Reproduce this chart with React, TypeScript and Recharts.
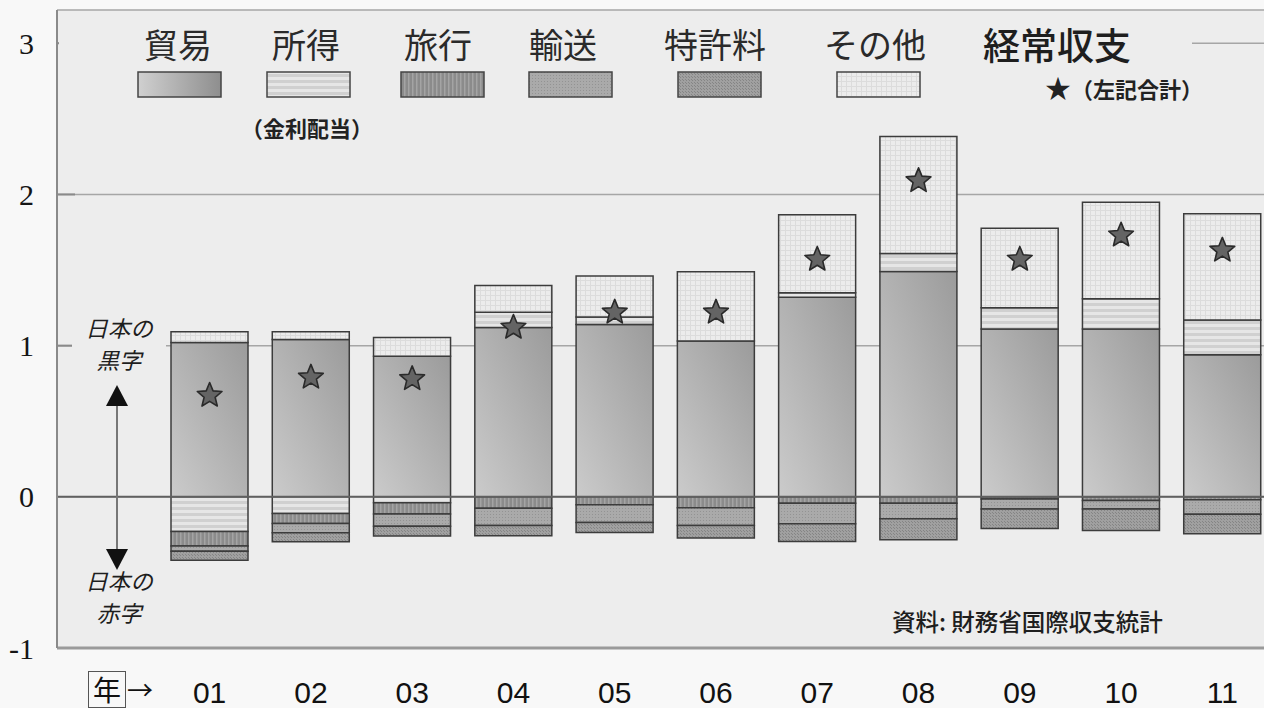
import React from 'react'
import { ComposedChart, Bar, Line, XAxis, YAxis, CartesianGrid, ReferenceLine } from 'recharts'

// 年 (2001-2011), 単位は縦軸目盛のまま
const years = ['01', '02', '03', '04', '05', '06', '07', '08', '09', '10', '11']
const trade = [1.02, 1.04, 0.93, 1.12, 1.14, 1.03, 1.32, 1.49, 1.11, 1.11, 0.94]
const income = [-0.23, -0.11, -0.04, 0.1, 0.05, 0, 0.03, 0.12, 0.14, 0.2, 0.23]
const travel = [-0.095, -0.066, -0.073, -0.075, -0.053, -0.073, -0.042, -0.042, -0.015, -0.024, -0.02]
const transport = [-0.035, -0.062, -0.081, -0.115, -0.117, -0.117, -0.136, -0.103, -0.066, -0.057, -0.095]
const royalty = [-0.06, -0.059, -0.066, -0.068, -0.066, -0.083, -0.117, -0.139, -0.129, -0.142, -0.13]
const other = [0.072, 0.051, 0.123, 0.177, 0.271, 0.459, 0.515, 0.773, 0.526, 0.638, 0.703]
const currentAccount = [0.67, 0.79, 0.78, 1.12, 1.22, 1.22, 1.57, 2.09, 1.57, 1.73, 1.63]
const yTicks = [-1, 0, 1, 2, 3]

const seriesNames = ['貿易', '所得', '旅行', '輸送', '特許料', 'その他']

const data = years.map((year, i) => ({
  year,
  trade: trade[i],
  income: income[i],
  travel: travel[i],
  transport: transport[i],
  royalty: royalty[i],
  other: other[i],
  total: currentAccount[i],
}))

const PLOT_BG = '#ededed'
const BAR_STROKE = '#3c3c3c'
const JP = '"Noto Sans CJK JP", "Noto Sans", sans-serif'

function starPath(cx: number, cy: number, R: number, r: number) {
  let d = ''
  for (let i = 0; i < 10; i++) {
    const a = -Math.PI / 2 + (i * Math.PI) / 5
    const rad = i % 2 === 0 ? R : r
    d += (i === 0 ? 'M' : 'L') + (cx + rad * Math.cos(a)).toFixed(2) + ',' + (cy + rad * Math.sin(a)).toFixed(2)
  }
  return d + 'Z'
}

const StarDot = (props: any) => {
  const { cx, cy, index } = props
  if (cx == null || cy == null) return <g key={index} />
  return <path key={index} d={starPath(cx, cy, 13, 5.8)} fill="#646464" stroke="#2a2a2a" strokeWidth={1.6} strokeLinejoin="round" />
}

const YTick = (props: any) => {
  const { x, y, payload } = props
  return (
    <g>
      <text x={x} y={y} dy="0.35em" textAnchor="end" fontFamily='"Liberation Serif", serif' fontSize={30} fill="#151515">
        {payload.value}
      </text>
      {payload.value > 0 && <line x1={x + 23} x2={x + 41} y1={y} y2={y} stroke="#8a8a8a" strokeWidth={2} />}
    </g>
  )
}

function Patterns() {
  return (
    <svg width={0} height={0} style={{ position: 'absolute' }}>
      <defs>
        <linearGradient id="fTrade" x1="1" y1="0" x2="0" y2="1">
          <stop offset="0%" stopColor="#9b9b9b" />
          <stop offset="100%" stopColor="#cbcbcb" />
        </linearGradient>
        <linearGradient id="fTradeKey" x1="0" y1="0" x2="1" y2="0">
          <stop offset="0%" stopColor="#d0d0d0" />
          <stop offset="100%" stopColor="#8e8e8e" />
        </linearGradient>
        <pattern id="fIncome" width="6" height="6" patternUnits="userSpaceOnUse">
          <rect width="6" height="6" fill="#d0d0d0" />
          <rect y="0" width="6" height="3" fill="#e6e6e6" />
        </pattern>
        <pattern id="fTravel" width="4" height="4" patternUnits="userSpaceOnUse">
          <rect width="4" height="4" fill="#8b8b8b" />
          <rect x="0" width="1.5" height="4" fill="#a4a4a4" />
        </pattern>
        <pattern id="fTransport" width="3" height="3" patternUnits="userSpaceOnUse">
          <rect width="3" height="3" fill="#aaaaaa" />
          <rect x="1" y="1" width="1" height="1" fill="#939393" />
        </pattern>
        <pattern id="fRoyalty" width="3" height="3" patternUnits="userSpaceOnUse">
          <rect width="3" height="3" fill="#a0a0a0" />
          <rect x="0" y="0" width="1" height="1" fill="#858585" />
          <rect x="2" y="2" width="1" height="1" fill="#858585" />
        </pattern>
        <pattern id="fOther" width="5" height="5" patternUnits="userSpaceOnUse">
          <rect width="5" height="5" fill="#ececec" />
          <path d="M0,0.5H5M0.5,0V5" stroke="#dcdcdc" strokeWidth="1" />
        </pattern>
      </defs>
    </svg>
  )
}

const fills = ['url(#fTrade)', 'url(#fIncome)', 'url(#fTravel)', 'url(#fTransport)', 'url(#fRoyalty)', 'url(#fOther)']
const keyFills = ['url(#fTradeKey)', 'url(#fIncome)', 'url(#fTravel)', 'url(#fTransport)', 'url(#fRoyalty)', 'url(#fOther)']
const keys = ['trade', 'income', 'travel', 'transport', 'royalty', 'other']

// legend layout
const legendText = [144, 272, 404, 529, 664, 824]
const legendPatch = [137, 266, 400, 528, 677, 836]

const noteStyle: React.CSSProperties = {
  position: 'absolute',
  left: 72,
  width: 94,
  fontFamily: JP,
  fontStyle: 'italic',
  fontSize: 22.5,
  lineHeight: '32px',
  color: '#1e1e1e',
  textAlign: 'center',
  whiteSpace: 'nowrap',
}

export default function App() {
  return (
    <div style={{ position: 'absolute', left: 0, top: 0, width: 1264, height: 708, overflow: 'hidden', background: '#f8f8f8' }}>
      <Patterns />
      <ComposedChart
        width={1273}
        height={708}
        data={data}
        stackOffset="sign"
        margin={{ top: 10, right: 0, left: 0, bottom: 0 }}
      >
        <CartesianGrid vertical={false} stroke="#a6a6a6" strokeWidth={1.5} fill={PLOT_BG} />
        <XAxis
          dataKey="year"
          padding={{ left: 102, right: 0 }}
          height={60}
          axisLine={{ stroke: '#9a9a9a', strokeWidth: 3 }}
          tickLine={false}
          tickSize={0}
          tickMargin={34}
          tick={{ fontSize: 30, fill: '#111', fontFamily: '"Liberation Sans", Arial, sans-serif' }}
          interval={0}
        />
        <YAxis
          type="number"
          domain={[-1, 3.22]}
          ticks={yTicks}
          width={57}
          axisLine={{ stroke: '#8a8a8a', strokeWidth: 2 }}
          tickLine={false}
          tickSize={0}
          tickMargin={23}
          tick={<YTick />}
        />
        <ReferenceLine y={0} stroke="#606060" strokeWidth={2} />
        {keys.map((k, i) => (
          <Bar
            key={k}
            dataKey={k}
            name={seriesNames[i]}
            stackId="a"
            fill={fills[i]}
            stroke={BAR_STROKE}
            strokeWidth={1.5}
            barSize={77}
            isAnimationActive={false}
          />
        ))}
        <Line
          dataKey="total"
          name="経常収支"
          stroke="none"
          dot={StarDot}
          activeDot={false}
          isAnimationActive={false}
        />
      </ComposedChart>

      {/* hide gridline at 3 behind legend */}
      <div style={{ position: 'absolute', left: 59, top: 38, width: 1133, height: 10, background: PLOT_BG }} />

      {seriesNames.map((name, i) => (
        <div key={name} style={{ position: 'absolute', left: legendText[i], top: 24, fontFamily: JP, fontSize: 34, lineHeight: '40px', color: '#2a2a2a', whiteSpace: 'nowrap' }}>
          {name}
        </div>
      ))}
      {seriesNames.map((name, i) => (
        <svg key={'p' + name} width={86} height={28} style={{ position: 'absolute', left: legendPatch[i], top: 71 }}>
          <rect x={1} y={1} width={83} height={25} fill={keyFills[i]} stroke="#444" strokeWidth={1.5} />
        </svg>
      ))}
      <div style={{ position: 'absolute', left: 241, top: 112, fontFamily: JP, fontSize: 22, fontWeight: 700, lineHeight: '30px', color: '#222', whiteSpace: 'nowrap' }}>
        （金利配当）
      </div>
      <div style={{ position: 'absolute', left: 983, top: 22, fontFamily: JP, fontSize: 37, fontWeight: 500, lineHeight: '44px', color: '#1e1e1e', whiteSpace: 'nowrap' }}>
        経常収支
      </div>
      <div style={{ position: 'absolute', left: 1045, top: 72, fontFamily: JP, fontSize: 22, fontWeight: 700, lineHeight: '30px', color: '#222', whiteSpace: 'nowrap' }}>
        <span style={{ fontSize: 26 }}>★</span>（左記合計）
      </div>

      {/* left annotation */}
      <div style={{ position: 'absolute', left: 72, top: 311, width: 94, height: 66, background: PLOT_BG }} />
      <div style={{ ...noteStyle, top: 311 }}>日本の</div>
      <div style={{ ...noteStyle, top: 343 }}>黒字</div>
      <svg width={40} height={200} style={{ position: 'absolute', left: 97, top: 380 }}>
        <line x1={20} x2={20} y1={20} y2={175} stroke="#777" strokeWidth={2} />
        <polygon points="20,5 9,26 31,26" fill="#111" />
        <polygon points="20,190 9,169 31,169" fill="#111" />
      </svg>
      <div style={{ ...noteStyle, top: 564 }}>日本の</div>
      <div style={{ ...noteStyle, top: 596 }}>赤字</div>

      <div style={{ position: 'absolute', left: 892, top: 605, fontFamily: JP, fontSize: 23.5, fontWeight: 500, lineHeight: '32px', color: '#1e1e1e', whiteSpace: 'nowrap' }}>
        資料: 財務省国際収支統計
      </div>

      {/* x label */}
      <div style={{ position: 'absolute', left: 88, top: 671, width: 36, height: 35, border: '1.5px solid #555', fontFamily: JP, fontSize: 28, lineHeight: '35px', textAlign: 'center', color: '#111' }}>
        年
      </div>
      <div style={{ position: 'absolute', left: 127, top: 672, fontFamily: JP, fontSize: 26, lineHeight: '34px', color: '#111' }}>
        →
      </div>
    </div>
  )
}
